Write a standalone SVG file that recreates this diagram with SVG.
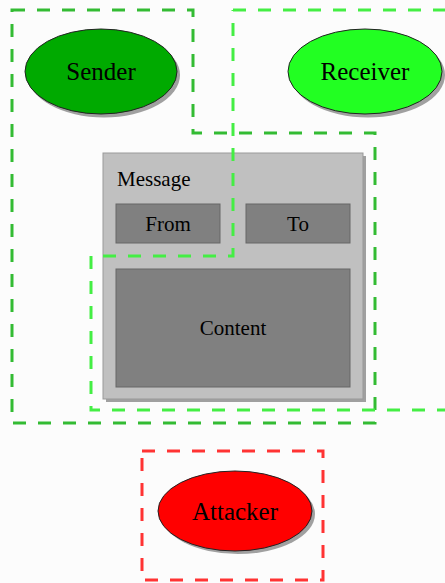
<svg xmlns="http://www.w3.org/2000/svg" width="445" height="583" viewBox="0 0 445 583">
<defs>
<style>
text{font-family:'Liberation Serif','DejaVu Serif',serif;fill:#000;}
.big{font-size:25px;text-anchor:middle;}
.mid{font-size:21px;text-anchor:middle;}
.shadow{fill:#a0a0a0;}
.ell{stroke:#222;stroke-width:1;}
.region{fill:none;stroke-width:3;stroke-dasharray:13 12;}
.field{fill:#808080;stroke:#666;stroke-width:1;}
</style>
</defs>
<rect width="445" height="583" fill="#fcfcfc"/>
<g id="message">
<rect x="106" y="156" width="260" height="246" class="shadow"/>
<rect x="103" y="153" width="260" height="246" fill="#c0c0c0" stroke="#999" stroke-width="1"/>
<text x="117" y="186" font-family="Liberation Serif, serif" font-size="21">Message</text>
<g id="from"><rect x="116" y="204" width="104" height="39" class="field"/><text x="168" y="231" class="mid" font-family="Liberation Serif, serif">From</text></g>
<g id="to"><rect x="246" y="204" width="104" height="39" class="field"/><text x="298" y="231" class="mid" font-family="Liberation Serif, serif">To</text></g>
<g id="content"><rect x="116" y="269" width="234" height="118" class="field"/><text x="233" y="335" class="mid" font-family="Liberation Serif, serif">Content</text></g>
</g>
<g id="sender">
<ellipse cx="104" cy="75" rx="76" ry="42.5" class="shadow"/>
<ellipse cx="101" cy="71.5" rx="76" ry="42.5" fill="#00aa00" class="ell"/>
<text x="101" y="80" class="big" font-family="Liberation Serif, serif">Sender</text>
</g>
<g id="receiver">
<ellipse cx="368" cy="75" rx="77" ry="42.5" class="shadow"/>
<ellipse cx="365" cy="71.5" rx="77" ry="42.5" fill="#22ff22" class="ell"/>
<text x="365" y="80" class="big" font-family="Liberation Serif, serif">Receiver</text>
</g>
<g id="attacker">
<ellipse cx="238" cy="514" rx="77" ry="40" class="shadow"/>
<ellipse cx="235" cy="511" rx="77" ry="40" fill="#ff0000" class="ell"/>
<text x="235" y="520" class="big" font-family="Liberation Serif, serif">Attacker</text>
</g>
<g id="regions">
<path id="sender-region" class="region" stroke="#33bb33" d="M12 10 H193 V133 H375 V423 H12 Z"/>
<path id="receiver-region" class="region" stroke="#44ee44" d="M233 10 H450 M450 410 H91 V256 H233 V10"/>
<rect id="attacker-region" class="region" stroke="#ff3333" x="142" y="451" width="181" height="129"/>
</g>
</svg>
